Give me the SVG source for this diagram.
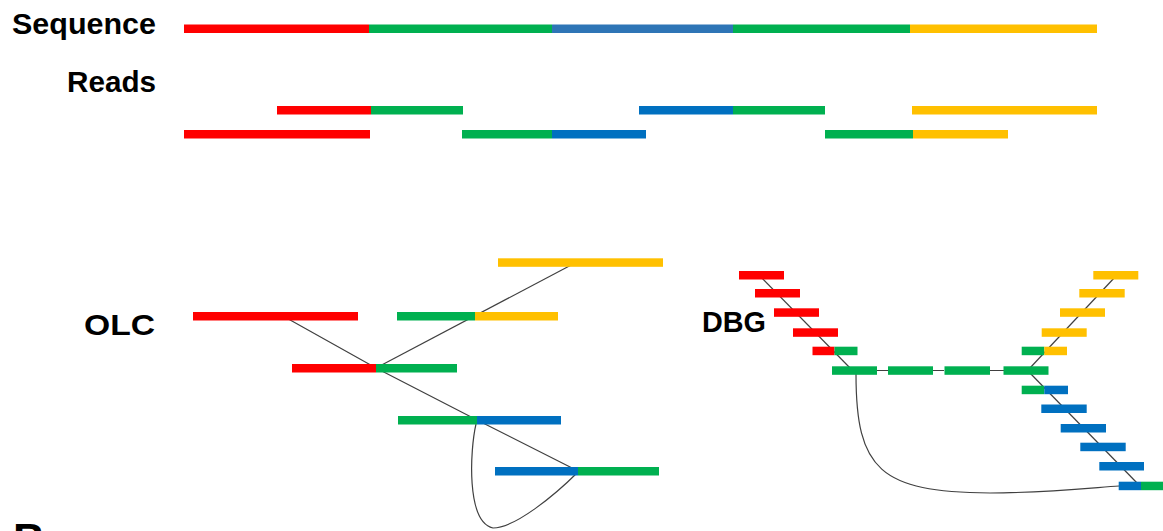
<svg xmlns="http://www.w3.org/2000/svg" width="1163" height="531" viewBox="0 0 1163 531">
<style>
.r{fill:#FF0000}.g{fill:#00B050}.b{fill:#0070C0}.sb{fill:#2E75B6}.y{fill:#FFC000}
.lbl{font-family:"Liberation Sans",Arial,sans-serif;font-weight:bold;font-size:30px;fill:#000}
.ln{fill:none;stroke:#404040;stroke-width:1.2}
</style>
<rect width="1163" height="531" fill="#fff"/>
<g id="connectors">
<path class="ln" d="M283,316 L376,368 L477,420 L578,471"/>
<path class="ln" d="M376,368 L575,263"/>
<path class="ln" d="M476,424 C470,450 466,522 493,528 C515,528 555,495 578,472"/>
<path class="ln" d="M760,276 L852,370"/>
<path class="ln" d="M877,370.5 H888 M933,370.5 H944 M990,370.5 H1004"/>
<path class="ln" d="M1030,368 L1115,277"/>
<path class="ln" d="M1029,372 L1138,484"/>
<path class="ln" d="M856,374 C856,470 880,492 990,493 C1040,493 1090,488 1119,486"/>
</g>
<g id="label-sequence"><text class="lbl" x="12" y="34" textLength="144" lengthAdjust="spacingAndGlyphs">Sequence</text></g>
<g id="label-reads"><text class="lbl" x="67" y="91.5" textLength="89" lengthAdjust="spacingAndGlyphs">Reads</text></g>
<g id="label-olc"><text class="lbl" x="84" y="334.5" textLength="71" lengthAdjust="spacingAndGlyphs">OLC</text></g>
<g id="label-dbg"><text class="lbl" x="702" y="332" textLength="64" lengthAdjust="spacingAndGlyphs">DBG</text></g>
<g id="label-b"><text class="lbl" x="13" y="555" style="font-size:44px">B</text></g>
<g id="sequence">
<rect class="r" x="184" y="24.5" width="185" height="8.5"/>
<rect class="g" x="369" y="24.5" width="183" height="8.5"/>
<rect class="sb" x="552" y="24.5" width="181" height="8.5"/>
<rect class="g" x="733" y="24.5" width="177" height="8.5"/>
<rect class="y" x="910" y="24.5" width="187" height="8.5"/>
</g>
<g id="read-1"><rect class="r" x="277" y="106" width="94" height="8.5"/><rect class="g" x="371" y="106" width="92" height="8.5"/></g>
<g id="read-2"><rect class="b" x="639" y="106" width="94" height="8.5"/><rect class="g" x="733" y="106" width="92" height="8.5"/></g>
<g id="read-3"><rect class="y" x="912" y="106" width="185" height="8.5"/></g>
<g id="read-4"><rect class="r" x="184" y="130" width="186" height="8.5"/></g>
<g id="read-5"><rect class="g" x="462" y="130" width="90" height="8.5"/><rect class="b" x="552" y="130" width="94" height="8.5"/></g>
<g id="read-6"><rect class="g" x="825" y="130" width="88" height="8.5"/><rect class="y" x="913" y="130" width="95" height="8.5"/></g>
<g id="olc-1"><rect class="r" x="193" y="312" width="165" height="8.5"/></g>
<g id="olc-2"><rect class="g" x="397" y="312" width="78" height="8.5"/><rect class="y" x="475" y="312" width="83" height="8.5"/></g>
<g id="olc-3"><rect class="y" x="498" y="258.3" width="165" height="8.5"/></g>
<g id="olc-4"><rect class="r" x="292" y="364" width="84" height="8.5"/><rect class="g" x="376" y="364" width="81" height="8.5"/></g>
<g id="olc-5"><rect class="g" x="398" y="416" width="79" height="8.5"/><rect class="b" x="477" y="416" width="84" height="8.5"/></g>
<g id="olc-6"><rect class="b" x="495" y="467" width="83" height="8.5"/><rect class="g" x="578" y="467" width="81" height="8.5"/></g>
<g id="dbg-r1"><rect class="r" x="739" y="271" width="45" height="8.5"/></g>
<g id="dbg-r2"><rect class="r" x="755" y="289" width="45" height="8.5"/></g>
<g id="dbg-r3"><rect class="r" x="774" y="308.3" width="45" height="8.5"/></g>
<g id="dbg-r4"><rect class="r" x="793" y="328.3" width="45" height="8.5"/></g>
<g id="dbg-rg"><rect class="r" x="812.5" y="346.7" width="22" height="8.5"/><rect class="g" x="834.5" y="346.7" width="23" height="8.5"/></g>
<g id="dbg-g1"><rect class="g" x="832" y="366.3" width="45" height="8.5"/></g>
<g id="dbg-g2"><rect class="g" x="888" y="366.3" width="45" height="8.5"/></g>
<g id="dbg-g3"><rect class="g" x="944.5" y="366.3" width="45.5" height="8.5"/></g>
<g id="dbg-g4"><rect class="g" x="1003.5" y="366.3" width="45" height="8.5"/></g>
<g id="dbg-gy"><rect class="g" x="1021.7" y="346.7" width="22.6" height="8.5"/><rect class="y" x="1044.3" y="346.7" width="22.7" height="8.5"/></g>
<g id="dbg-y4"><rect class="y" x="1041.7" y="328.3" width="45" height="8.5"/></g>
<g id="dbg-y3"><rect class="y" x="1060" y="308.3" width="45" height="8.5"/></g>
<g id="dbg-y2"><rect class="y" x="1079.3" y="289" width="45.4" height="8.5"/></g>
<g id="dbg-y1"><rect class="y" x="1093.3" y="271" width="45" height="8.5"/></g>
<g id="dbg-gb"><rect class="g" x="1021.7" y="385.7" width="22.6" height="8.5"/><rect class="b" x="1044.3" y="385.7" width="23.7" height="8.5"/></g>
<g id="dbg-b1"><rect class="b" x="1041.3" y="404.5" width="45.4" height="8.5"/></g>
<g id="dbg-b2"><rect class="b" x="1060.7" y="424" width="45.3" height="8.5"/></g>
<g id="dbg-b3"><rect class="b" x="1080.3" y="442.7" width="45.4" height="8.5"/></g>
<g id="dbg-b4"><rect class="b" x="1099.3" y="462" width="44.7" height="8.5"/></g>
<g id="dbg-bg"><rect class="b" x="1118.7" y="481.7" width="22.3" height="8.5"/><rect class="g" x="1141" y="481.7" width="22" height="8.5"/></g>
</svg>
